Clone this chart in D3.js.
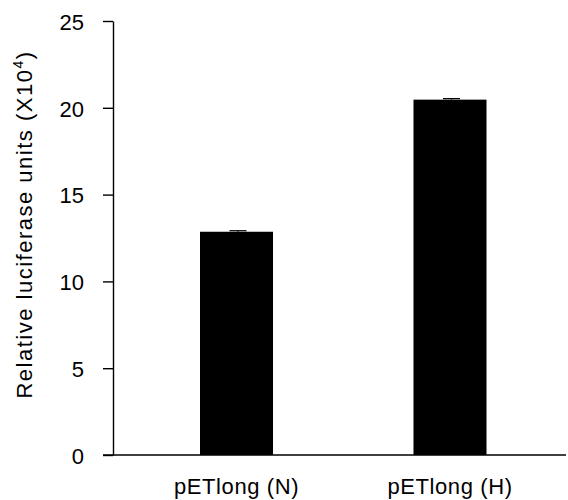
<!DOCTYPE html>
<html>
<head>
<meta charset="utf-8">
<script src="https://cdn.jsdelivr.net/npm/d3@7"></script>
<style>
  html, body { margin: 0; padding: 0; background: #fff; }
  svg { display: block; font-family: Arial, "Liberation Sans", Helvetica, sans-serif; }
</style>
</head>
<body>
<svg id="chart" width="568" height="500"></svg>
<script>
const categories = ["pETlong (N)", "pETlong (H)"];
const values = [12.86, 20.47];
const errors = [0.06, 0.06];
const yTicks = [0, 5, 10, 15, 20, 25];

const svg = d3.select("#chart");

const y = d3.scaleLinear().domain([0, 25]).range([455, 21]);
const x = d3.scaleBand().domain(categories).range([113, 573.5]).paddingInner(0.658).paddingOuter(0.4075);

// bars
svg.append("g").selectAll("rect").data(categories).join("rect")
  .attr("x", d => x(d))
  .attr("width", x.bandwidth())
  .attr("y", (d, i) => y(values[i]))
  .attr("height", (d, i) => y(0) - y(values[i]))
  .attr("fill", "#000");

// error bars (caps)
const eb = svg.append("g").attr("stroke", "#000").attr("stroke-width", 1.2);
categories.forEach((c, i) => {
  const cx = x(c) + x.bandwidth() / 2 + 1.5;
  eb.append("line").attr("x1", cx).attr("x2", cx)
    .attr("y1", y(values[i])).attr("y2", y(values[i] + errors[i]));
  eb.append("line").attr("x1", cx - 8.5).attr("x2", cx + 8.5)
    .attr("y1", y(values[i] + errors[i])).attr("y2", y(values[i] + errors[i]));
});

// y axis
const yAxis = svg.append("g").attr("transform", "translate(113,0)")
  .call(d3.axisLeft(y).tickValues(yTicks).tickSize(10).tickSizeOuter(0).tickPadding(19).tickFormat(d3.format("d")));
yAxis.select(".domain").attr("stroke", "#000").attr("stroke-width", 1.4);
yAxis.selectAll(".tick line").attr("stroke", "#000").attr("stroke-width", 1.4);
yAxis.selectAll(".tick text").attr("font-size", 22).attr("fill", "#000")
  .attr("font-family", "Arial, 'Liberation Sans', sans-serif").attr("dy", "0.38em");

// x axis
const xAxis = svg.append("g").attr("transform", "translate(0,455)")
  .call(d3.axisBottom(x).tickSize(0).tickPadding(23));
xAxis.select(".domain").remove();
xAxis.selectAll(".tick text").attr("font-size", 22).attr("fill", "#000")
  .attr("font-family", "Arial, 'Liberation Sans', sans-serif")
  .attr("letter-spacing", "0.6px").attr("dy", "0.71em");
svg.append("line").attr("x1", 103).attr("x2", 566).attr("y1", 455).attr("y2", 455)
  .attr("stroke", "#000").attr("stroke-width", 1.4);

// y label
const yl = svg.append("text")
  .attr("transform", "translate(32,224.5) rotate(-90)")
  .attr("text-anchor", "middle")
  .attr("font-size", 22)
  .attr("letter-spacing", "1.5px")
  .attr("fill", "#000");
yl.append("tspan").text("Relative luciferase units (X10");
yl.append("tspan").attr("font-size", 14).attr("dy", "-9").text("4");
yl.append("tspan").attr("dy", "9").text(")");
</script>
</body>
</html>
